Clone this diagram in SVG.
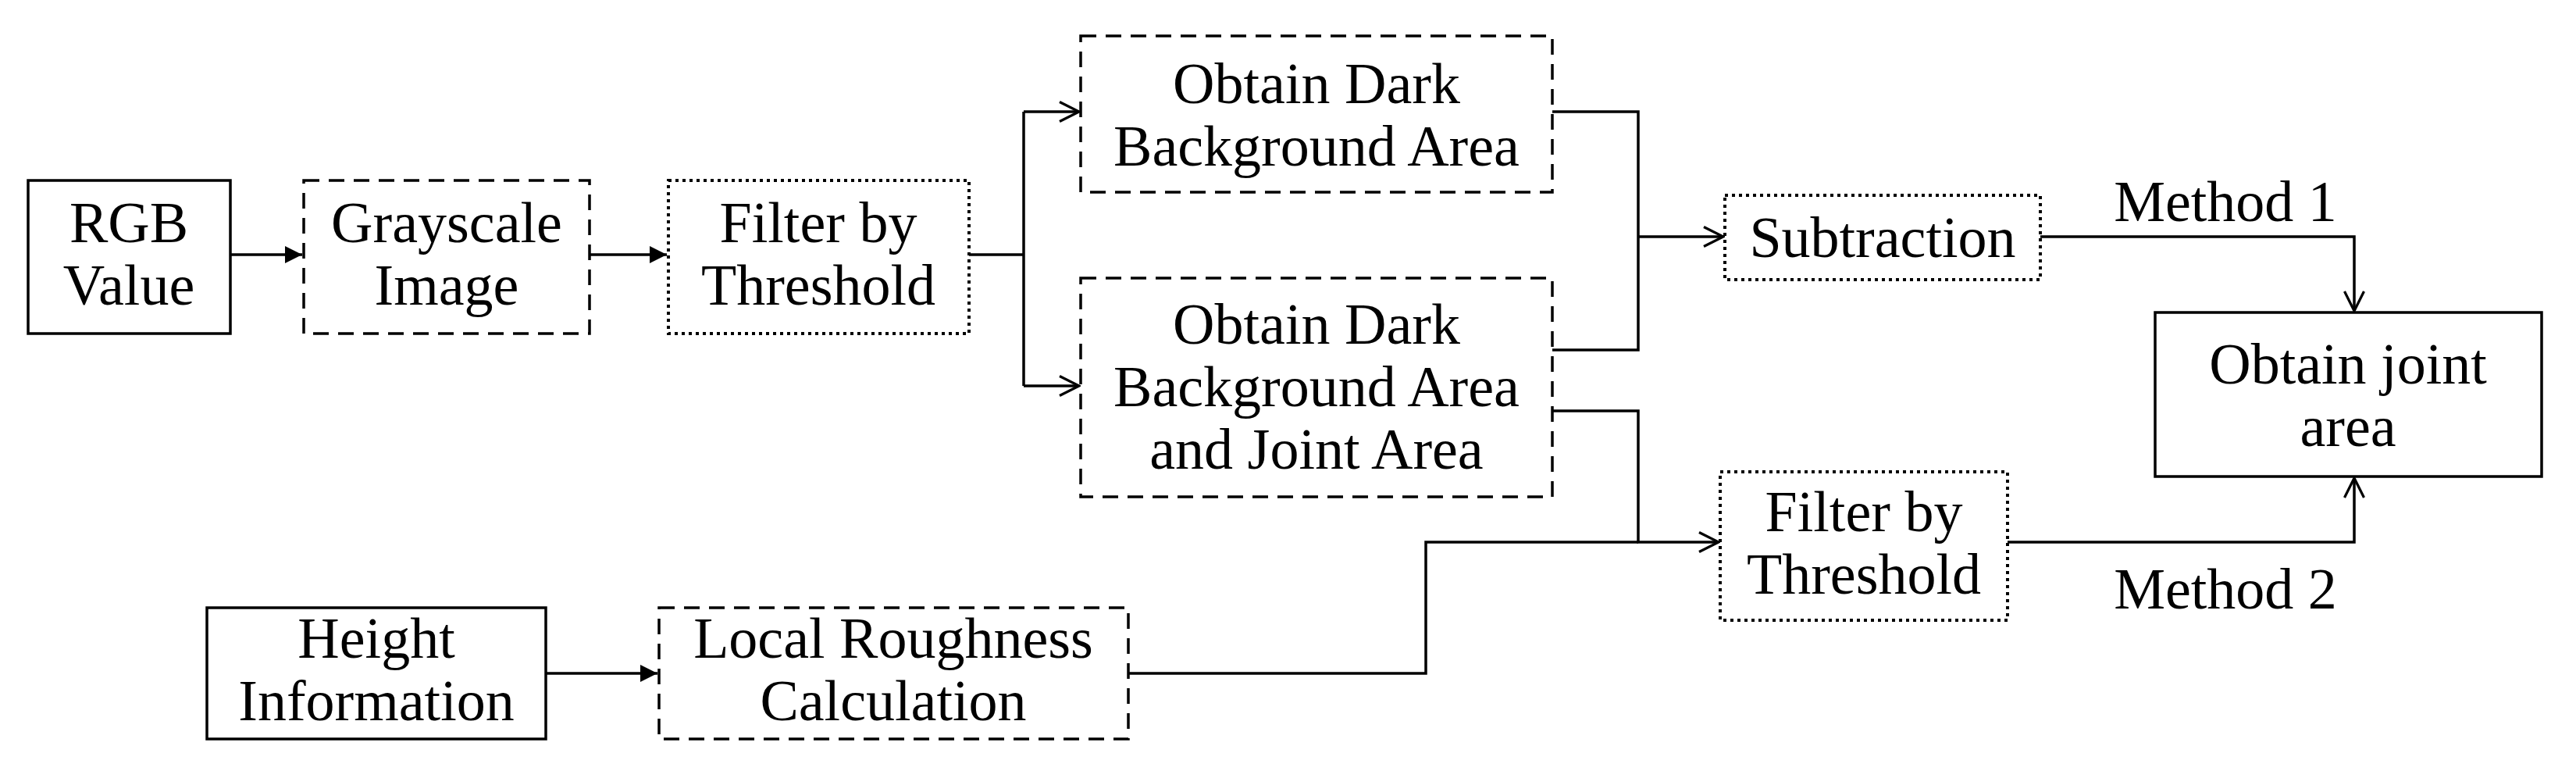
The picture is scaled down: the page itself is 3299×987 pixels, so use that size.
<svg xmlns="http://www.w3.org/2000/svg" width="3299" height="987" viewBox="0 0 3299 987">
<style>
rect{fill:#fff;stroke:#000;stroke-width:3.5}
.dash{stroke-dasharray:20 12}
.dot{stroke-dasharray:4 5;stroke-width:4}
text{font-family:"Liberation Serif",serif;font-size:74px;text-anchor:middle;fill:#000}
#connectors path{fill:none;stroke:#000;stroke-width:3.5}
</style>
<defs>
<marker id="fa" viewBox="0 0 10 10" refX="10" refY="5" markerWidth="22" markerHeight="22" markerUnits="userSpaceOnUse" orient="auto"><path d="M0,0L10,5L0,10z" fill="#000"/></marker>
<marker id="oa" viewBox="0 0 12 12" refX="11" refY="6" markerWidth="30" markerHeight="30" markerUnits="userSpaceOnUse" orient="auto"><path d="M1,1L11,6L1,11" fill="none" stroke="#000" stroke-width="1.3"/></marker>
</defs>
<rect width="3299" height="987" style="stroke:none"/>
<g id="connectors">
<path d="M295,326H387" marker-end="url(#fa)"/>
<path d="M755,326H854" marker-end="url(#fa)"/>
<path d="M1241,326H1311M1311,143V494M1311,143H1382" marker-end="url(#oa)"/>
<path d="M1311,494H1382" marker-end="url(#oa)"/>
<path d="M1988,143H2098V448H1988M2098,303H2207" marker-end="url(#oa)"/>
<path d="M1988,526H2098V694H2201" marker-end="url(#oa)"/>
<path d="M699,862H842" marker-end="url(#fa)"/>
<path d="M1445,862H1826V694H2098"/>
<path d="M2613,303H3015V398" marker-end="url(#oa)"/>
<path d="M2571,694H3015V612" marker-end="url(#oa)"/>
</g>
<g id="rgb"><rect x="36" y="231" width="259" height="196"/><text x="165" y="310">RGB</text><text x="165" y="390">Value</text></g>
<g id="gray"><rect class="dash" x="389" y="231" width="366" height="196"/><text x="572" y="310">Grayscale</text><text x="572" y="390">Image</text></g>
<g id="filter1"><rect class="dot" x="856" y="231" width="385" height="196"/><text x="1048" y="310">Filter by</text><text x="1048" y="390">Threshold</text></g>
<g id="dark1"><rect class="dash" x="1384" y="46" width="604" height="200"/><text x="1686" y="132">Obtain Dark</text><text x="1686" y="212">Background Area</text></g>
<g id="dark2"><rect class="dash" x="1384" y="356" width="604" height="280"/><text x="1686" y="440">Obtain Dark</text><text x="1686" y="520">Background Area</text><text x="1686" y="600">and Joint Area</text></g>
<g id="sub"><rect class="dot" x="2209" y="250" width="404" height="108"/><text x="2411" y="329">Subtraction</text></g>
<g id="filter2"><rect class="dot" x="2203" y="604" width="368" height="190"/><text x="2387" y="680">Filter by</text><text x="2387" y="760">Threshold</text></g>
<g id="height"><rect x="265" y="778" width="434" height="168"/><text x="482" y="842">Height</text><text x="482" y="922">Information</text></g>
<g id="rough"><rect class="dash" x="844" y="778" width="601" height="168"/><text x="1144" y="842">Local Roughness</text><text x="1144" y="922">Calculation</text></g>
<g id="joint"><rect x="2760" y="400" width="495" height="210"/><text x="3007" y="491">Obtain joint</text><text x="3007" y="571">area</text></g>
<g id="labels"><text x="2850" y="283">Method 1</text><text x="2850" y="779">Method 2</text></g>
</svg>
